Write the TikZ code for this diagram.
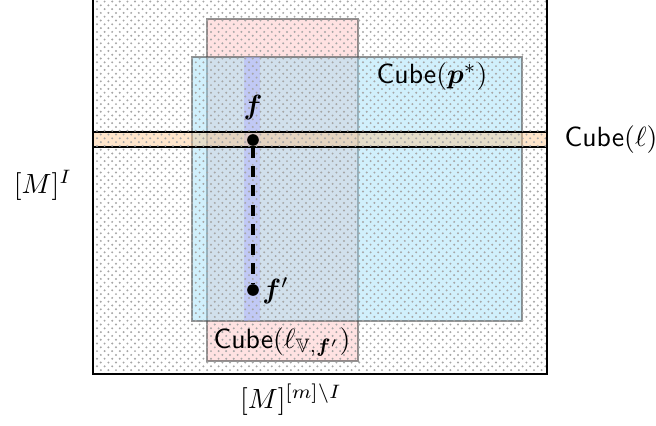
\documentclass[tikz,border=0pt]{standalone}
\usepackage{amsmath,amssymb,bm}
\tikzset{
  region/.style={draw=black!70, draw opacity=0.6, fill opacity=0.45, line width=0.5pt},
  dotpt/.style={circle, fill=black, inner sep=0pt, minimum size=4.2pt},
  lbl/.style={inner sep=1pt}
}
\begin{document}
\begin{tikzpicture}[x=0.36pt,y=-0.36pt]
\useasboundingbox (0,0) rectangle (656,425);
\coordinate (oTL) at (93,-4);
\coordinate (oBR) at (547,374);
% pink
\path[region, fill=red!25] (207,19) rectangle (358,361);
% blue
\path[region, fill=cyan!40] (192,57) rectangle (522,321);
% purple band
\fill[blue!30, fill opacity=0.5] (244,57) rectangle (260,321);
% orange band
\path[draw=black, line width=0.4pt, fill=orange!45, fill opacity=0.45] (93,132) rectangle (547,147);
% dots pattern
\begin{scope}
\clip (oTL) rectangle (oBR);
\foreach \j in {0,...,50} {
  \fill[black!35] \foreach \i in {0,...,60} { (97+7.6*\i,1.5+7.6*\j) circle (1.1) (100.8+7.6*\i,5.3+7.6*\j) circle (1.1) };
}
\end{scope}
\draw[line width=0.5pt] (oTL) rectangle (oBR);
% points
\node[dotpt] (f) at (253,140) {};
\node[dotpt] (fp) at (253,290) {};
\draw[line width=1.4pt, dash pattern=on 4pt off 3pt] (f) -- (fp);
\node[lbl] (flab) at (253,108) {$\bm{f}$};
\node[lbl, anchor=west] (fplab) at (259,291) {$\bm{f}'$};
% labels
\node[lbl] (cp) at (432,77) {$\textsf{Cube}(\bm{p}^{*})$};
\node[lbl] (cl) at (611,140) {$\textsf{Cube}(\ell)$};
\node[lbl] (clv) at (282,342) {$\textsf{Cube}(\ell_{\mathbb{V},\bm{f}'})$};
\node[lbl] (mi) at (43,185) {$[M]^{I}$};
\node[lbl] (mmi) at (291,400) {$[M]^{[m]\setminus I}$};
\end{tikzpicture}
\end{document}
